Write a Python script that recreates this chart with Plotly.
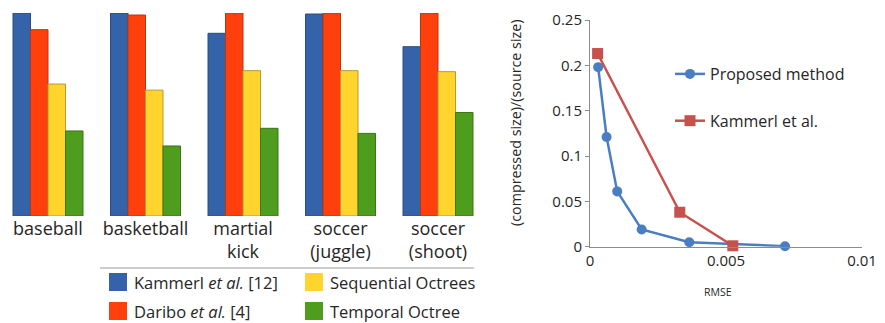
import plotly.graph_objects as go

# The page places the figure 8px from the top-left corner, so the figure is
# sized to fill exactly the remaining part of the 885x323 window.
OFF = 8
W, H = 885 - OFF, 323 - OFF

# ---------------- data ----------------
categories = ["baseball", "basketball", "martial kick", "soccer (juggle)", "soccer (shoot)"]
category_labels = ["baseball", "basketball", "martial<br>kick", "soccer<br>(juggle)", "soccer<br>(shoot)"]

bar_series = ["Kammerl <i>et al.</i> [12]", "Daribo <i>et al.</i> [4]", "Sequential Octrees", "Temporal Octree"]
kammerl_bars = [1.00, 1.00, 0.90, 0.995, 0.834]
daribo_bars = [0.918, 0.99, 1.00, 1.00, 1.00]
sequential_bars = [0.65, 0.62, 0.716, 0.716, 0.711]
temporal_bars = [0.419, 0.345, 0.432, 0.407, 0.51]

rmse_proposed = [0.0003, 0.00061, 0.0010, 0.0019, 0.00365, 0.00717]
ratio_proposed = [0.198, 0.121, 0.061, 0.019, 0.005, 0.0005]
rmse_kammerl = [0.00028, 0.0033, 0.00525]
ratio_kammerl = [0.213, 0.038, 0.001]

y_ticks = [0, 0.05, 0.1, 0.15, 0.2, 0.25]
y_ticktext = ["0", "0.05", "0.1", "0.15", "0.2", "0.25"]
x_ticks = [0, 0.005, 0.01]
x_ticktext = ["0", "0.005", "0.01"]

# ---------------- styling ----------------
bar_colors = ["#3563A9", "#FF3F0C", "#FFD42C", "#4F9D1F"]
bar_edges = ["#2A4C80", "#B8380E", "#B89A30", "#3C7418"]
FONT = "Open Sans"
TXT = "#262626"


def px(x):
    return (x - OFF) / W


def py(y):
    return 1 - (y - OFF) / H


# category axis geometry: group centres at 48 + 97.5*i (window pixels)
PITCH, C0 = 97.5, 48.0
LX0, LX1 = 8.0, 486.0
cat_range = [(LX0 - C0) / PITCH, (LX1 - C0) / PITCH]

fig = go.Figure()

for name, vals, col, edge in zip(bar_series,
                                 [kammerl_bars, daribo_bars, sequential_bars, temporal_bars],
                                 bar_colors, bar_edges):
    fig.add_trace(go.Bar(
        x=categories, y=vals, name=name, showlegend=False,
        marker=dict(color=col, line=dict(color=edge, width=1)),
        xaxis="x", yaxis="y"))

fig.add_trace(go.Scatter(
    x=rmse_proposed, y=ratio_proposed, name="Proposed method",
    mode="lines+markers", line=dict(color="#4A7EC2", width=2.5),
    marker=dict(symbol="circle", size=10, color="#4A7EC2"),
    xaxis="x2", yaxis="y2", legend="legend2", legendgroup="a", cliponaxis=False))
fig.add_trace(go.Scatter(
    x=rmse_kammerl, y=ratio_kammerl, name="Kammerl et al.",
    mode="lines+markers", line=dict(color="#C8504D", width=2.5),
    marker=dict(symbol="square", size=11, color="#C8504D"),
    xaxis="x2", yaxis="y2", legend="legend2", legendgroup="b", cliponaxis=False))

shapes = []
annotations = []

# left legend: separator line
shapes.append(dict(type="line", xref="paper", yref="paper",
                   x0=px(100), x1=px(474), y0=py(268), y1=py(268),
                   line=dict(color="#9A9A9A", width=1)))
legend_pos = [(109, 273), (109, 302), (305, 273), (305, 302)]
for (lx, ly), name, col in zip(legend_pos, bar_series, bar_colors):
    shapes.append(dict(type="rect", xref="paper", yref="paper",
                       x0=px(lx), x1=px(lx + 18), y0=py(ly), y1=py(ly + 18),
                       fillcolor=col, line=dict(color="rgba(0,0,0,0)", width=0)))
    annotations.append(dict(text=name, xref="paper", yref="paper",
                            x=px(lx + 23), y=py(ly + 9), xanchor="left", yanchor="middle",
                            showarrow=False, font=dict(family=FONT, size=16.5, color=TXT)))

# right axis titles
annotations.append(dict(text="(compressed size)/(source size)", xref="paper", yref="paper",
                        x=px(515), y=py(123), textangle=-90, showarrow=False,
                        xanchor="center", yanchor="middle",
                        font=dict(family=FONT, size=14.3, color=TXT)))
annotations.append(dict(text="RMSE", xref="paper", yref="paper",
                        x=px(718), y=py(292), showarrow=False,
                        xanchor="center", yanchor="middle",
                        font=dict(family=FONT, size=10.5, color=TXT)))

fig.update_layout(
    width=W, height=H,
    margin=dict(l=0, r=0, t=0, b=0, autoexpand=False),
    paper_bgcolor="white", plot_bgcolor="white",
    barmode="group", bargap=0.282, bargroupgap=0,
    font=dict(family=FONT, color=TXT),
    xaxis=dict(domain=[px(LX0), px(LX1)], type="category", range=cat_range, automargin=False,
               tickvals=categories, ticktext=category_labels,
               tickfont=dict(size=18, color=TXT), showline=False, showgrid=False,
               ticks="", zeroline=False),
    yaxis=dict(domain=[py(216), py(13)], range=[0, 1], visible=False, automargin=False),
    xaxis2=dict(domain=[px(590), px(862)], range=[0, 0.01], anchor="y2", automargin=False,
                tickvals=x_ticks, ticktext=x_ticktext,
                tickfont=dict(size=15, color=TXT),
                showline=True, linecolor="#8C8C8C", linewidth=1,
                showgrid=False, zeroline=False, ticks=""),
    yaxis2=dict(domain=[py(246.7), py(20)], range=[0, 0.25], anchor="x2", automargin=False,
                tickvals=y_ticks, ticktext=y_ticktext,
                tickfont=dict(size=15, color=TXT),
                showline=True, linecolor="#8C8C8C", linewidth=1,
                ticks="outside", ticklen=4, tickcolor="#8C8C8C",
                showgrid=False, zeroline=False),
    legend2=dict(x=px(670), y=py(57), xanchor="left", yanchor="top",
                 bgcolor="rgba(0,0,0,0)", borderwidth=0,
                 font=dict(family=FONT, size=16, color=TXT),
                 tracegroupgap=23, itemwidth=30),
    shapes=shapes,
    annotations=annotations,
)

fig.write_html("out.html")
